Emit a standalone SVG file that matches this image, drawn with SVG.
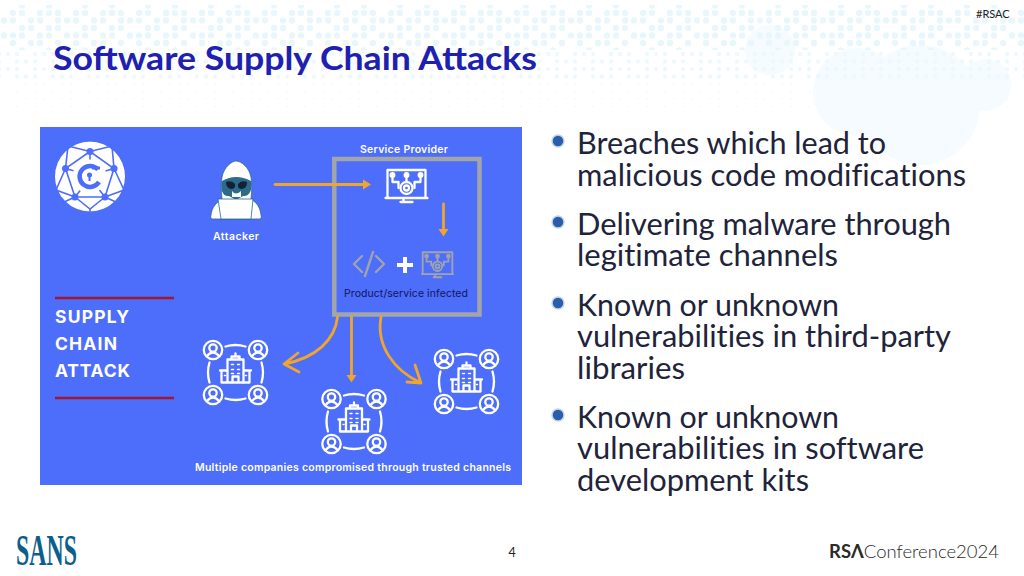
<svg xmlns="http://www.w3.org/2000/svg" xmlns:xlink="http://www.w3.org/1999/xlink" width="1024" height="576" viewBox="0 0 1024 576">
<style>
.w{fill:none;stroke:#fff;stroke-width:2.3;stroke-linecap:round;stroke-linejoin:round}
.g{fill:none;stroke:#a0a3ad;stroke-width:2.4;stroke-linejoin:round}
.ar{fill:none;stroke:#f0a52c;stroke-width:2.8;stroke-linecap:round;stroke-linejoin:round}
.af{fill:#f0a52c}
.lb{font-family:"Inter","Roboto",sans-serif;font-weight:600;fill:#fff;font-size:10.5px}
.sc{font-family:"Inter","Roboto",sans-serif;font-weight:700;fill:#fff;font-size:17.5px}
.bt{font-family:"Lato","Open Sans",sans-serif;font-size:30px;fill:#20233a;font-variant-ligatures:none}
.bd{fill:#2a5ea8;stroke:#c4d3ea;stroke-width:1.5}
</style>
<defs>
<pattern id="d1" width="63" height="45" patternUnits="userSpaceOnUse" x="4" y="5">
<g fill="#e9f7fc"><circle cx="9" cy="8" r="3.2"/><circle cx="18" cy="8" r="3.2"/><circle cx="36" cy="8" r="3.2"/><circle cx="45" cy="8" r="3.2"/><circle cx="54" cy="8" r="3.2"/>
<circle cx="0" cy="15.500" r="3.200"/><circle cx="63" cy="15.500" r="3.200"/><circle cx="9" cy="15.500" r="3.200"/><circle cx="27" cy="15.500" r="3.200"/><circle cx="36" cy="15.500" r="3.200"/><circle cx="54" cy="15.500" r="3.200"/>
<circle cx="18" cy="23" r="3.200"/><circle cx="27" cy="23" r="3.200"/><circle cx="45" cy="23" r="3.200"/><circle cx="54" cy="23" r="3.200"/>
<circle cx="0" cy="30.500" r="3.200"/><circle cx="63" cy="30.500" r="3.200"/><circle cx="9" cy="30.500" r="3.200"/><circle cx="18" cy="30.500" r="3.200"/><circle cx="36" cy="30.500" r="3.200"/><circle cx="45" cy="30.500" r="3.200"/>
<circle cx="9" cy="38" r="3.200"/><circle cx="27" cy="38" r="3.200"/><circle cx="36" cy="38" r="3.200"/><circle cx="54" cy="38" r="3.200"/>
<circle cx="18" cy="0.500" r="3.200"/><circle cx="18" cy="45.500" r="3.200"/><circle cx="45" cy="0.500" r="3.200"/><circle cx="45" cy="45.500" r="3.200"/></g>
</pattern>
<pattern id="d2" width="36" height="15" patternUnits="userSpaceOnUse" x="4" y="50">
<g fill="#eef9fd"><circle cx="4" cy="4" r="2.200"/><circle cx="13" cy="4" r="2.200"/><circle cx="31" cy="4" r="2.200"/><circle cx="13" cy="11.500" r="2.200"/><circle cx="22" cy="11.500" r="2.200"/><circle cx="31" cy="11.500" r="2.200"/></g>
</pattern>
<pattern id="d3" width="36" height="15" patternUnits="userSpaceOnUse" x="4" y="80">
<g fill="#f3fbfe"><circle cx="4" cy="4" r="1.100"/><circle cx="22" cy="4" r="1.100"/><circle cx="31" cy="4" r="1.100"/><circle cx="13" cy="11.500" r="1.100"/><circle cx="31" cy="11.500" r="1.100"/></g>
</pattern>
<g id="co">
<g class="w">
<circle cx="-22.500" cy="-22.500" r="9.200"/><circle cx="22.500" cy="-22.500" r="9.200"/><circle cx="-22.500" cy="22.500" r="9.200"/><circle cx="22.500" cy="22.500" r="9.200"/>
<circle cx="-22.500" cy="-24.500" r="3.700"/><path d="M-28.500 -16.500q6-7 12 0"/><circle cx="22.500" cy="-24.500" r="3.700"/><path d="M16.500 -16.500q6-7 12 0"/>
<circle cx="-22.500" cy="20.500" r="3.700"/><path d="M-28.500 28.500q6-7 12 0"/><circle cx="22.500" cy="20.500" r="3.700"/><path d="M16.500 28.500q6-7 12 0"/>
<path d="M-10 -26q10-3 20 0M-10 26q10 3 20 0M-26 -10q-3 10 0 20M26 -10q3 10 0 20"/>
<path d="M-8 10V-13H8V10M-8 -2H-14V10H14V-2H8M-15.500 -2H-8M8 -2H15.500M-4 -13V-16H4V-13M0 -16V-19M-3 10V4H3V10"/>
<path d="M-4 -8H-2M2 -8H4M-4 -3H-2M2 -3H4M-4 1H-2M2 1H4M-11 3H-10M10 3H11" stroke-width="1.500"/>
</g>
</g>
<g id="mon">
<path d="M-19 -15H19V13H-19ZM-21 13H21M-6 17H6M-3 13V17" />
<path d="M-14 -10V-3H-8V3M14 -10V-3H8V3M0 -10V-4" />
<circle cx="0" cy="3" r="6"/><circle cx="0" cy="3" r="2.500"/>
<circle cx="-14" cy="-10" r="1.800"/><circle cx="0" cy="-10" r="1.800"/><circle cx="14" cy="-10" r="1.800"/>
</g>
</defs>
<rect width="1024" height="576" fill="#fff"/>
<g id="background">
<g fill="#f5fbfe"><circle cx="770" cy="50" r="25"/><circle cx="857" cy="92" r="44"/><circle cx="920" cy="105" r="60"/><circle cx="985" cy="85" r="26"/></g>
<rect x="0" y="5" width="1024" height="45" fill="url(#d1)"/>
<rect x="0" y="50" width="1024" height="30" fill="url(#d2)"/>
<rect x="0" y="80" width="1024" height="30" fill="url(#d3)"/>
</g>
<text id="title" x="53" y="70" font-family="Lato,Open Sans,sans-serif" font-weight="700" font-size="32.500" fill="#2020b0" textLength="484" lengthAdjust="spacingAndGlyphs">Software Supply Chain Attacks</text>
<text id="tag" x="976" y="18" font-family="Lato,sans-serif" font-size="11" fill="#222">#RSAC</text>
<rect id="panel" x="40" y="127" width="482" height="358" fill="#4d6dfb"/>
<g id="logo">
<circle cx="90" cy="176.500" r="35" fill="#fff"/>
<g fill="none" stroke="#4d6dfb" stroke-width="1.600">
<path d="M90 151.500L65.500 168.500L75 197L105 197L114 168.500ZM90 151.500V165M65.500 168.500L78 172M114 168.500L102 172M75 197L83 187M105 197L97 187M75 197L90 209L105 197"/>
<path d="M68 146Q90 135 112 146L90 151.500ZM112 146L114 168.500M68 146L65.500 168.500M65.500 168.500L56 190L75 197M114 168.500L124 190L105 197M75 197L62 203M105 197L118 203M90 209V212"/>
</g>
<circle cx="90" cy="151.500" r="3.500" fill="#4d6dfb"/><circle cx="65.500" cy="168.500" r="3.500" fill="#4d6dfb"/><circle cx="114" cy="168.500" r="3.500" fill="#4d6dfb"/><circle cx="75" cy="197" r="3.500" fill="#4d6dfb"/><circle cx="105" cy="197" r="3.500" fill="#4d6dfb"/>
<circle cx="89.500" cy="176.500" r="17" fill="#fff"/>
<path d="M98 169.500A10.500 10.500 0 1 0 99 182" fill="none" stroke="#4d6dfb" stroke-width="4.500"/>
<path d="M92 168H100" stroke="#4d6dfb" stroke-width="3"/>
<circle cx="89.500" cy="175" r="2.500" fill="#4d6dfb"/><rect x="88.500" y="176" width="2" height="5" fill="#4d6dfb"/>
</g>
<g id="attacker">
<path d="M211 215C212 207 216 203 222 199C221 190 221 183 222 177C224 167 232 161 236 161C241 161 249 167 251 177C252 183 252 190 251 199C257 203 260 207 261 215C262 219 260 219 258 219H214C212 219 210 219 211 215Z" fill="#fff" stroke="#2a6a90" stroke-width=".8"/>
<path d="M222 181Q236 173 251 181C253 190 249 197 243 196L236 200L229 196C223 197 220 190 222 181Z" fill="#2d6a8c"/>
<path d="M226 182Q232 180 235 184Q236 189 231 189Q226 188 226 182ZM247 182Q241 180 238 184Q237 189 242 189Q247 188 247 182Z" fill="#123"/>
<path d="M232 191Q236 196 241 191V197H232Z" fill="#fff"/>
<path d="M218 199H253L251 219H221Z" fill="#fff" stroke="#2a6a90" stroke-width=".8"/>
<text class="lb" x="213" y="240" textLength="46">Attacker</text>
</g>
<g id="provider">
<text class="lb" x="360" y="153" textLength="88">Service Provider</text>
<rect x="334.300" y="159" width="145.200" height="155.500" fill="none" stroke="#a4a5a8" stroke-width="4.500"/>
<use xlink:href="#mon" href="#mon" transform="translate(406.500,185)" class="w"/>
<path class="g" d="M362 256L354 264L362 272M376 256L384 264L376 272M373 252L365 276" stroke-linecap="round"/>
<path d="M405 257V273M397 265H413" stroke="#fff" stroke-width="4" fill="none"/>
<use xlink:href="#mon" href="#mon" transform="translate(437.500,264) scale(.78)" class="g"/>
<text x="344" y="297" textLength="124" font-family="Inter,Roboto,sans-serif" font-size="10.500" fill="#14145a">Product/service infected</text>
</g>
<g id="company-1"><use xlink:href="#co" href="#co" x="235.500" y="372.500"/></g>
<g id="company-2"><use xlink:href="#co" href="#co" x="354" y="421.500"/></g>
<g id="company-3"><use xlink:href="#co" href="#co" x="466.500" y="381.500"/></g>
<g id="connectors">
<path class="ar" d="M275 184.500H364"/><path class="af" d="M363 179.500L371 184.500L363 189.500Z"/>
<path class="ar" d="M443.500 204V230"/><path class="af" d="M438.500 229H448.500L443.500 236.500Z"/>
<path class="ar" d="M337.500 317C335 340 316 358 284 364M298 353L284 364L299 372" stroke-width="3.400"/>
<path class="ar" d="M351.500 317V376"/><path class="af" d="M346.500 375H356.500L351.500 382.500Z"/>
<path class="ar" d="M381 317C376 345 393 370 421 383M415 365L421 383L407 382" stroke-width="3.400"/>
</g>
<g id="side-label">
<path d="M55 298H174M55 398H174" stroke="#a01830" stroke-width="2.400"/>
<text class="sc" x="55" y="323" textLength="74">SUPPLY</text><text class="sc" x="55" y="350" textLength="62">CHAIN</text><text class="sc" x="55" y="377" textLength="75">ATTACK</text>
</g>
<text id="caption" class="lb" x="195" y="471" textLength="316">Multiple companies compromised through trusted channels</text>
<g id="bullets">
<circle class="bd" cx="558" cy="141" r="6"/><circle class="bd" cx="558" cy="222" r="6"/><circle class="bd" cx="558" cy="303" r="6"/><circle class="bd" cx="558" cy="415" r="6"/>
<text class="bt" x="577" y="153.500" textLength="309" lengthAdjust="spacingAndGlyphs">Breaches which lead to</text>
<text class="bt" x="577" y="185.500" textLength="389" lengthAdjust="spacingAndGlyphs">malicious code modifications</text>
<text class="bt" x="577" y="234.500" textLength="374" lengthAdjust="spacingAndGlyphs">Delivering malware through</text>
<text class="bt" x="577" y="265.500" textLength="261" lengthAdjust="spacingAndGlyphs">legitimate channels</text>
<text class="bt" x="577" y="315.500" textLength="262" lengthAdjust="spacingAndGlyphs">Known or unknown</text>
<text class="bt" x="577" y="346.500" textLength="374" lengthAdjust="spacingAndGlyphs">vulnerabilities in third-party</text>
<text class="bt" x="577" y="378.500" textLength="108" lengthAdjust="spacingAndGlyphs">libraries</text>
<text class="bt" x="577" y="427.500" textLength="262" lengthAdjust="spacingAndGlyphs">Known or unknown</text>
<text class="bt" x="577" y="458.500" textLength="347" lengthAdjust="spacingAndGlyphs">vulnerabilities in software</text>
<text class="bt" x="577" y="490.500" textLength="232" lengthAdjust="spacingAndGlyphs">development kits</text>
</g>
<g id="footer">
<text x="16" y="565" font-family="Liberation Serif,serif" font-weight="700" font-size="44" fill="#0c5f8c" textLength="61" lengthAdjust="spacingAndGlyphs">SANS</text>
<text x="512" y="557" text-anchor="middle" font-family="Lato,sans-serif" font-size="12.500" fill="#222">4</text>
<text x="829" y="558" font-family="Lato,sans-serif" font-size="18" fill="#2a2a2a" textLength="170" lengthAdjust="spacingAndGlyphs"><tspan font-weight="700">RSΛ</tspan><tspan font-weight="300">Conference2024</tspan></text>
</g>
</svg>
